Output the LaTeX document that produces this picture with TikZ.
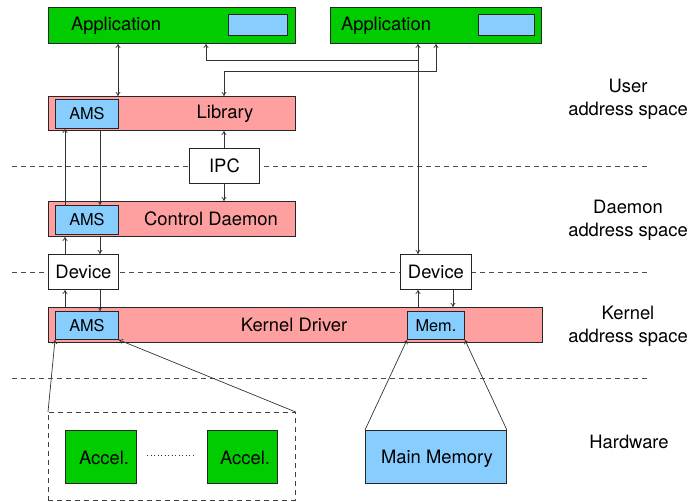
\documentclass[tikz,border=0pt]{standalone}
\usepackage{fontspec}
\setmainfont{TeX Gyre Heros}
\usetikzlibrary{arrows.meta}
\definecolor{appgreen}{RGB}{0,204,0}
\definecolor{pinkbox}{RGB}{255,160,160}
\definecolor{bluebox}{RGB}{135,206,255}
\begin{document}
\begin{tikzpicture}[x=1pt,y=-1pt,
  blk/.style={draw=black!85,line width=0.9pt,inner sep=0pt,anchor=north west},
  bx/.style n args={2}{blk,minimum width=#1,minimum height=#2},
  txt/.style={font=\fontsize{18.4}{21}\selectfont,inner sep=0pt},
  stxt/.style={font=\fontsize{16.3}{19}\selectfont,inner sep=0pt},
  conn/.style={draw=black!80,line width=0.7pt},
  arr/.style={conn,-{To[length=4pt,width=5pt]}},
  darr/.style={conn,{To[length=4pt,width=5pt]}-{To[length=4pt,width=5pt]}},
  sep/.style={draw=black!70,dashed,dash pattern=on 5pt off 4pt,line width=0.7pt}
]
\useasboundingbox (0,0) rectangle (691,502);

% separators
\coordinate (s1l) at (12,166); \coordinate (s1r) at (648,166);
\coordinate (s2l) at (12,272); \coordinate (s2r) at (648,272);
\coordinate (s3l) at (12,378); \coordinate (s3r) at (648,378);
\draw[sep] (s1l) -- (s1r);
\draw[sep] (s2l) -- (s2r);
\draw[sep] (s3l) -- (s3r);

% applications
\node[bx={247pt}{36pt},fill=appgreen] (app1) at (48,7) {};
\node[bx={59pt}{21pt},fill=bluebox] (app1b) at (228,14) {};
\node[txt] (app1t) at (116,26) {Application};
\node[bx={211pt}{36pt},fill=appgreen] (app2) at (330,7) {};
\node[bx={56pt}{21pt},fill=bluebox] (app2b) at (478,14) {};
\node[txt] (app2t) at (386,26) {Application};

% library
\node[bx={247pt}{34pt},fill=pinkbox] (lib) at (48,96) {};
\node[bx={63pt}{29pt},fill=bluebox] (libams) at (55,99) {};
\node[stxt] (libamst) at (libams.center) {AMS};
\node[txt] (libt) at (225,114) {Library};

% IPC
\node[bx={70pt}{35pt},fill=white] (ipc) at (189,148) {};
\node[txt] (ipct) at (ipc.center) {IPC};

% daemon
\node[bx={247pt}{35pt},fill=pinkbox] (dae) at (48,201) {};
\node[bx={63pt}{29pt},fill=bluebox] (daeams) at (55,205) {};
\node[stxt] (daeamst) at (daeams.center) {AMS};
\node[txt] (daet) at (211,219) {Control Daemon};

% devices
\node[bx={70pt}{35pt},fill=white] (dev1) at (48,254) {};
\node[txt] (dev1t) at (dev1.center) {Device};
\node[bx={71pt}{35pt},fill=white] (dev2) at (400,254) {};
\node[txt] (dev2t) at (dev2.center) {Device};

% kernel
\node[bx={494pt}{35pt},fill=pinkbox] (ker) at (48,307) {};
\node[bx={63pt}{28pt},fill=bluebox] (kerams) at (55,311) {};
\node[stxt] (keramst) at (kerams.center) {AMS};
\node[bx={57pt}{28pt},fill=bluebox] (mem) at (407,311) {};
\node[stxt] (memt) at (mem.center) {Mem.};
\node[txt] (kert) at (294,325) {Kernel Driver};

% hardware
\node[bx={247pt}{88pt},draw=black!75,dashed,dash pattern=on 5pt off 4pt,line width=0.7pt] (hw) at (48,412) {};
\node[bx={71pt}{53pt},fill=appgreen] (acc1) at (65,430) {};
\node[txt] (acc1t) at (104,458) {Accel.};
\node[bx={70pt}{53pt},fill=appgreen] (acc2) at (207,430) {};
\node[txt] (acc2t) at (245,458) {Accel.};
\coordinate (dotl) at (147,455); \coordinate (dotr) at (195,455);
\draw[black!80,line width=0.7pt,dash pattern=on 1pt off 2.5pt] (dotl) -- (dotr);
\node[bx={141pt}{53pt},fill=bluebox] (mm) at (365,430) {};
\node[txt] (mmt) at (437,459) {Main Memory};

% right labels
\node[txt] (lu1) at (628,86) {User};
\node[txt] (lu2) at (628,111) {address space};
\node[txt] (ld1) at (628,207) {Daemon};
\node[txt] (ld2) at (628,232) {address space};
\node[txt] (lk1) at (628,313) {Kernel};
\node[txt] (lk2) at (628,338) {address space};
\node[txt] (lh) at (629,442) {Hardware};

% connectors
\draw[darr] ([xshift=70pt]app1.south west) -- ([xshift=70pt]lib.north west);
\coordinate (b1) at (206,60);
\coordinate (b2) at (418,60);
\draw[arr] (b2) -- (b1) -- ([xshift=158pt]app1.south west);
\draw[darr] ([xshift=88pt]app2.south west) -- ([xshift=18pt]dev2.north west);
\coordinate (d1) at (436,71);
\coordinate (d2) at (224,71);
\draw[darr] ([xshift=106pt]app2.south west) -- (d1) -- (d2) -- ([xshift=176pt]lib.north west);
\draw[arr] ([xshift=35pt]ipc.north west) -- ([xshift=176pt]lib.south west);
\draw[arr] ([xshift=35pt]ipc.south west) -- ([xshift=176pt]dae.north west);
\draw[arr] ([xshift=10pt]daeams.north west) -- ([xshift=10pt]libams.south west);
\draw[arr] ([xshift=52pt]lib.south west) -- ([xshift=45pt]daeams.north west);
\draw[arr] ([xshift=17pt]dev1.north west) -- ([xshift=17pt]dae.south west);
\draw[arr] ([xshift=52pt]dae.south west) -- ([xshift=52pt]dev1.north west);
\draw[arr] ([xshift=17pt]ker.north west) -- ([xshift=17pt]dev1.south west);
\draw[arr] ([xshift=52pt]dev1.south west) -- ([xshift=45pt]kerams.north west);
\draw[arr] ([xshift=370pt]ker.north west) -- ([xshift=18pt]dev2.south west);
\draw[arr] ([xshift=53pt]dev2.south west) -- ([xshift=405pt]ker.north west);
\draw[arr] (hw.north west) -- (kerams.south west);
\draw[arr] (hw.north east) -- (kerams.south east);
\draw[arr] (mm.north west) -- (mem.south west);
\draw[arr] (mm.north east) -- (mem.south east);
\end{tikzpicture}
\end{document}
